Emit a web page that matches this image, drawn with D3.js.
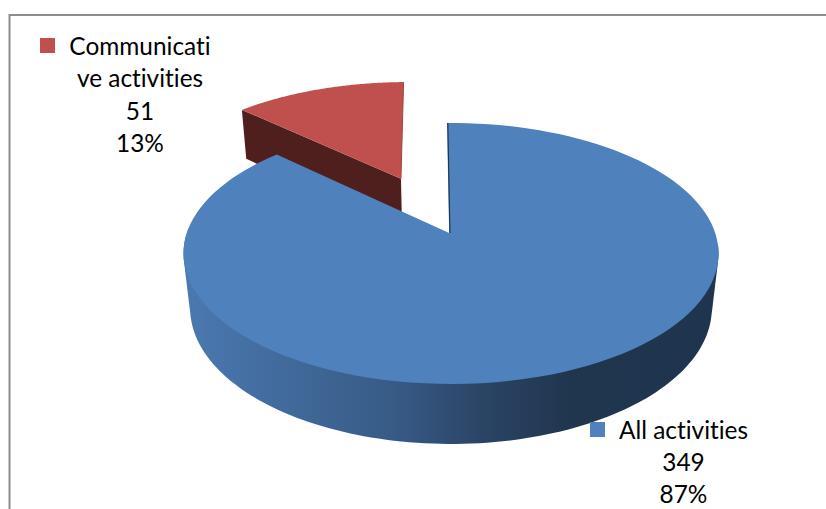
<!DOCTYPE html>
<html>
<head>
<meta charset="utf-8">
<script src="https://cdn.jsdelivr.net/npm/d3@7"></script>
<style>
html,body{margin:0;padding:0;background:#fff;overflow:hidden}
svg{display:block}
text{font-family:Lato,"Open Sans",sans-serif;fill:#000;font-variant-ligatures:none;font-feature-settings:"liga" 0,"clig" 0}
</style>
</head>
<body>
<svg id="chart" width="826" height="509"></svg>
<script>
const categories = ["All activities", "Communicative activities"];
const values = [349, 51];
const percents = ["87%", "13%"];
const labelLines = [["All activities"], ["Communicati", "ve activities"]];
const topColors = ["#4f81bd", "#c0504d"];
const explode = [0, 0.5];
const hubShift = [-0.007, 0];

const svg = d3.select("#chart");
const W = 826, H = 509;

// Perspective view of a unit disc: v runs from the viewer (-1) to the back (+1),
// z is 0 on the top face and 1 on the base.
const cx = 451, cy = 233, R = 264.2, S = 127.3, k = 0.157, T = 55.8, m = 0.025;
function project(u, v, z) {
  const w = 1 + k * v + m * z;
  return [cx + R * u / w, cy + (-S * v + T * z) / w];
}

const pie = d3.pie().sort(null).value(d => d)
  .startAngle(-Math.PI / 180)
  .endAngle(2 * Math.PI - Math.PI / 180);
const arcs = pie(values);

const sampleAngles = (a0, a1) => d3.range(0, 121).map(i => a0 + (a1 - a0) * i / 120);
const line = d3.line();

function sliceShape(d, i) {
  const mid = (d.startAngle + d.endAngle) / 2;
  const ox = explode[i] * Math.sin(mid), oy = explode[i] * Math.cos(mid);
  const rim = (z, a0 = d.startAngle, a1 = d.endAngle) => sampleAngles(a0, a1)
    .map(a => project(ox + Math.sin(a), oy + Math.cos(a), z));
  const apex = z => project(ox + hubShift[i], oy, z);
  return { rim, apex };
}

const defs = svg.append("defs");
const wallGrad = defs.append("linearGradient").attr("id", "wallBlue")
  .attr("gradientUnits", "userSpaceOnUse")
  .attr("x1", 184).attr("x2", 719).attr("y1", 0).attr("y2", 0);
[[0, "#4a79b1"], [0.2, "#41699a"], [0.4, "#375a85"], [0.55, "#2b4566"], [0.72, "#20364f"], [1, "#1f344e"]]
  .forEach(([o, c]) => wallGrad.append("stop").attr("offset", o).attr("stop-color", c));

// Chart frame, running off the right and bottom of the page
svg.append("path")
  .attr("d", `M${W + 2},15H9.5V${H + 2}`)
  .attr("fill", "none").attr("stroke", "#8c8c8c").attr("stroke-width", 2);

// Exploded slice first, the large slice sits in front of it
const red = sliceShape(arcs[1], 1);
const redTop = red.rim(0), redBase = red.rim(1);
svg.append("path")
  .attr("d", line([redTop[0], red.apex(0), red.apex(1), redBase[0]]) + "Z")
  .attr("fill", "#4f1f1e");
svg.append("path")
  .attr("d", line([red.apex(0), ...redTop]) + "Z")
  .attr("fill", topColors[1]);
svg.append("path")
  .attr("d", line([redTop[redTop.length - 1], red.apex(0)]))
  .attr("fill", "none").attr("stroke", "#a24543").attr("stroke-width", 1);

// Outer wall of the large slice: hull of the front parts of both rims
const blue = sliceShape(arcs[0], 0);
const frontFrom = 95 * Math.PI / 180, frontTo = 272 * Math.PI / 180;
const blueTop = blue.rim(0);
const wall = d3.polygonHull([...blue.rim(0, frontFrom, frontTo), ...blue.rim(1, frontFrom, frontTo)]);
svg.append("path")
  .attr("d", line(wall) + "Z")
  .attr("fill", "url(#wallBlue)");
svg.append("path")
  .attr("d", line([blue.apex(0), ...blueTop]) + "Z")
  .attr("fill", topColors[0]);
// Cut face of the large slice, seen almost edge-on
svg.append("path")
  .attr("d", line([blueTop[0], blue.apex(0)]))
  .attr("transform", "translate(0.8,0)")
  .attr("fill", "none").attr("stroke", "#1f344e").attr("stroke-width", 1.1);

// Data labels with their colour keys
const labelPos = [
  { key: [590, 422], tx: 683.5, y0: 439, dy: 32 },
  { key: [40, 38], tx: 140, y0: 54.7, dy: 32.5 }
];
labelPos.forEach((p, i) => {
  svg.append("rect").attr("x", p.key[0]).attr("y", p.key[1])
    .attr("width", 15).attr("height", 15).attr("fill", topColors[i]);
  const lines = [...labelLines[i], String(values[i]), percents[i]];
  svg.selectAll(null).data(lines).enter().append("text")
    .attr("x", p.tx).attr("y", (d, j) => p.y0 + j * p.dy)
    .attr("text-anchor", "middle").attr("font-size", 24.4).text(d => d);
});
</script>
</body>
</html>
